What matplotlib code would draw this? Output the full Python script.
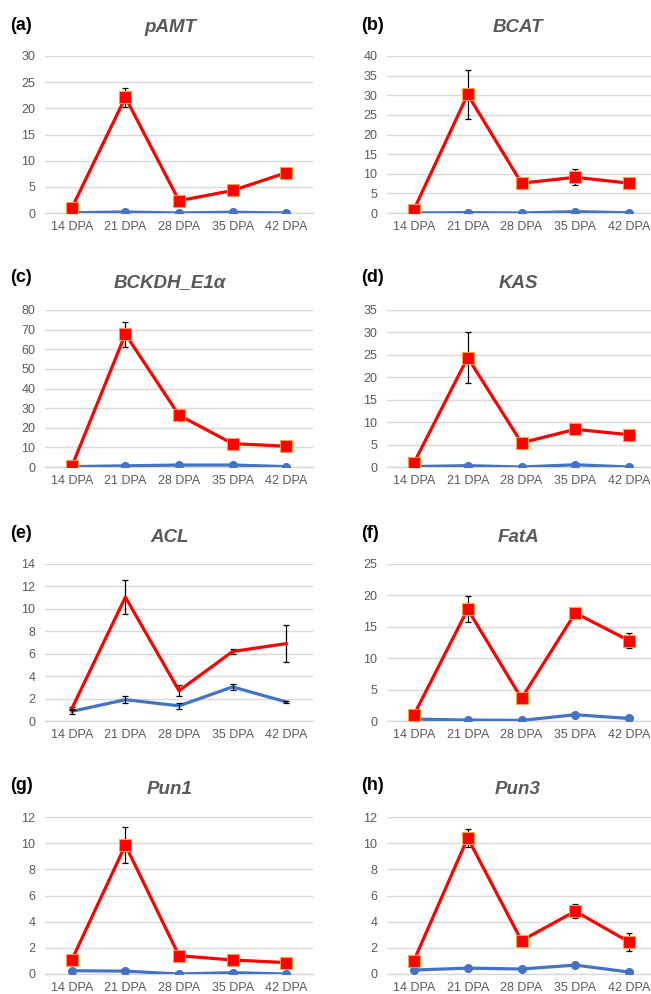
import numpy as np
import matplotlib.pyplot as plt

plt.rcParams['font.family'] = ['Liberation Sans', 'DejaVu Sans']

days = ["14 DPA", "21 DPA", "28 DPA", "35 DPA", "42 DPA"]

# red = placenta/high series, blue = low series
pamt_red = [0.95, 22.1, 2.35, 4.3, 7.7]
pamt_red_err = [0.2, 1.8, 0.3, 0.3, 0.3]
pamt_blue = [0.05, 0.2, 0.0, 0.15, 0.0]

bcat_red = [0.85, 30.2, 7.6, 9.1, 7.6]
bcat_red_err = [0.2, 6.3, 0.9, 2.0, 1.3]
bcat_blue = [0.0, 0.1, 0.0, 0.35, 0.05]

bckdh_red = [0.3, 67.7, 26.4, 11.9, 10.6]
bckdh_red_err = [0.2, 6.3, 1.0, 0.8, 0.7]
bckdh_blue = [0.2, 0.6, 1.0, 1.0, 0.2]

kas_red = [0.9, 24.4, 5.4, 8.4, 7.2]
kas_red_err = [0.2, 5.6, 0.4, 1.0, 0.4]
kas_blue = [0.1, 0.3, 0.0, 0.5, 0.0]

acl_red = [1.1, 11.05, 2.7, 6.2, 6.9]
acl_red_err = [0.15, 1.5, 0.5, 0.25, 1.67]
acl_blue = [0.86, 1.9, 1.35, 3.04, 1.7]
acl_blue_err = [0.25, 0.33, 0.28, 0.25, 0.1]

fata_red = [0.96, 17.8, 3.6, 17.2, 12.8]
fata_red_err = [0.2, 2.1, 0.3, 0.6, 1.2]
fata_blue = [0.3, 0.15, 0.1, 1.0, 0.4]

pun1_red = [1.07, 9.85, 1.4, 1.07, 0.87]
pun1_red_err = [0.1, 1.4, 0.1, 0.1, 0.1]
pun1_blue = [0.25, 0.22, 0.0, 0.1, 0.0]

pun3_red = [1.02, 10.4, 2.55, 4.8, 2.45]
pun3_red_err = [0.1, 0.7, 0.3, 0.55, 0.7]
pun3_blue = [0.3, 0.45, 0.38, 0.68, 0.15]

zeros = [0, 0, 0, 0, 0]

panels = [
    ("(a)", "pAMT", pamt_red, pamt_red_err, pamt_blue, zeros, 30, 5, True),
    ("(b)", "BCAT", bcat_red, bcat_red_err, bcat_blue, zeros, 40, 5, True),
    ("(c)", "BCKDH_E1α", bckdh_red, bckdh_red_err, bckdh_blue, zeros, 80, 10, True),
    ("(d)", "KAS", kas_red, kas_red_err, kas_blue, zeros, 35, 5, True),
    ("(e)", "ACL", acl_red, acl_red_err, acl_blue, acl_blue_err, 14, 2, False),
    ("(f)", "FatA", fata_red, fata_red_err, fata_blue, zeros, 25, 5, True),
    ("(g)", "Pun1", pun1_red, pun1_red_err, pun1_blue, zeros, 12, 2, True),
    ("(h)", "Pun3", pun3_red, pun3_red_err, pun3_blue, zeros, 12, 2, True),
]

W, H = 651, 994
fig = plt.figure(figsize=(W / 100, H / 100), dpi=100)

col_x = [(45, 313), (387, 656)]
row_y = [(56, 213), (310, 467), (564, 721), (817, 974)]
title_x = [170, 518]
title_y = [28, 283, 537, 790]
label_x = [10, 361]
label_y = [25, 277, 533, 785]

grey = "#595959"
x = np.arange(len(days))

for i, (lab, gene, red, red_err, blue, blue_err, ymax, step, markers) in enumerate(panels):
    r, c = divmod(i, 2)
    x0, x1 = col_x[c]
    y0, y1 = row_y[r]
    ax = fig.add_axes([x0 / W, 1 - y1 / H, (x1 - x0) / W, (y1 - y0) / H])

    ax.plot(x, blue, color="#4472C4", lw=2.3, marker="o" if markers else None,
            ms=5.5, zorder=3)
    if any(blue_err):
        ax.errorbar(x, blue, yerr=blue_err, fmt="none", ecolor="black",
                    elinewidth=0.9, capsize=2.5, capthick=0.9, zorder=5)
    ax.errorbar(x, red, yerr=red_err, fmt="none", ecolor="black",
                elinewidth=0.9, capsize=2.5, capthick=0.9, zorder=4)
    ax.plot(x, red, color="#FF0000", lw=2.3, marker="s" if markers else None,
            ms=8, mfc="#FF0000", mec="#FFA040", mew=0.8, zorder=4.5)

    ax.set_xlim(-0.5, 4.5)
    ax.set_ylim(0, ymax)
    ax.set_yticks(np.arange(0, ymax + step / 2, step))
    ax.set_xticks(x)
    ax.set_xticklabels(days)
    ax.yaxis.grid(True, color="#D9D9D9", lw=1.0)
    ax.set_axisbelow(True)
    for s in ["top", "right", "left"]:
        ax.spines[s].set_visible(False)
    ax.spines["bottom"].set_color("#D9D9D9")
    ax.spines["bottom"].set_linewidth(1.0)
    ax.tick_params(length=0, labelsize=9, labelcolor=grey)
    ax.tick_params(axis="y", pad=7)
    ax.tick_params(axis="x", pad=6)

    fig.text(title_x[c] / W, 1 - title_y[r] / H, gene, ha="center", va="center",
             fontsize=13.5, fontweight="bold", fontstyle="italic", color=grey)
    fig.text(label_x[c] / W, 1 - label_y[r] / H, lab, ha="left", va="center",
             fontsize=13, fontweight="bold", color="black")

fig.savefig("out.png", dpi=100)
